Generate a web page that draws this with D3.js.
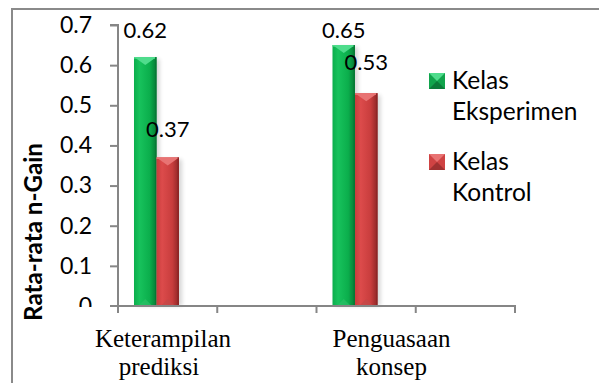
<!DOCTYPE html>
<html>
<head>
<meta charset="utf-8">
<script src="https://cdn.jsdelivr.net/npm/d3@7"></script>
<style>
  html, body { margin: 0; padding: 0; background: #fff; }
  svg { display: block; }
</style>
</head>
<body>
<svg id="chart" width="599" height="383"></svg>
<script>
// Average n-Gain per learning aspect, experiment vs control class
const categories = ["Keterampilan prediksi", "", "Penguasaan konsep", ""];
const categoryLines = [["Keterampilan", "prediksi"], [], ["Penguasaan", "konsep"], []];
const seriesNames = ["Kelas Eksperimen", "Kelas Kontrol"];
const eksperimen = [0.62, null, 0.65, null];
const kontrol = [0.37, null, 0.53, null];
const yTicks = [0, 0.1, 0.2, 0.3, 0.4, 0.5, 0.6, 0.7];
const yTitle = "Rata-rata n-Gain";

const svg = d3.select("#chart");
const axisColor = "#868686";
const sansFont = "Lato, 'Open Sans', sans-serif";
const serifFont = "'Liberation Serif', 'Times New Roman', serif";

const plot = { left: 118, right: 515, top: 25, bottom: 306 };

const x = d3.scaleBand().domain(categories.map((c, i) => i)).range([plot.left, plot.right]);
const y = d3.scaleLinear().domain([0, 0.7]).range([plot.bottom, plot.top]);
// two bars per category, sitting left of the band centre
const xs = d3.scaleBand().domain([0, 1]).range([16, 61]);

const defs = svg.append("defs");
const palettes = [
  { light: "#17c25c", mid: "#0bae4c", dark: "#067a35", cap: "#4fdc8c", base: "#2bbf66", key: "#11a44c", keyDark: "#086a32" },
  { light: "#dc4b4b", mid: "#c83d3d", dark: "#8e2626", cap: "#e87373", base: "#c24848", key: "#cf4343", keyDark: "#8a2a2a" }
];
palettes.forEach((p, i) => {
  const g = defs.append("linearGradient").attr("id", "bar" + i)
    .attr("x1", "0").attr("x2", "1").attr("y1", "0").attr("y2", "0");
  g.append("stop").attr("offset", "0").attr("stop-color", p.mid);
  g.append("stop").attr("offset", "0.25").attr("stop-color", p.light);
  g.append("stop").attr("offset", "0.7").attr("stop-color", p.mid);
  g.append("stop").attr("offset", "1").attr("stop-color", p.dark);
});
const sh = defs.append("filter").attr("id", "shadow").attr("x", "-30%").attr("width", "160%");
sh.append("feGaussianBlur").attr("stdDeviation", 2.2);

// outer frame
svg.append("rect").attr("x", 12).attr("y", 9).attr("width", 700).attr("height", 500)
  .attr("fill", "none").attr("stroke", "#8a8a8a").attr("stroke-width", 2);

// bars
const seriesData = [eksperimen, kontrol];
seriesData.forEach((vals, s) => {
  const p = palettes[s];
  vals.forEach((v, i) => {
    if (v == null) return;
    const x0 = x(i) + xs(s), w = xs.bandwidth(), yt = y(v), h = plot.bottom - yt;
    const g = svg.append("g");
    g.append("rect").attr("x", x0 + 3).attr("y", yt + 2).attr("width", w).attr("height", h - 2)
      .attr("fill", "#000").attr("opacity", 0.16).attr("filter", "url(#shadow)");
    g.append("rect").attr("x", x0).attr("y", yt).attr("width", w).attr("height", h)
      .attr("fill", `url(#bar${s})`);
    // top bevel
    g.append("path").attr("d", `M${x0},${yt} L${x0 + w},${yt} L${x0 + w / 2},${yt + 8} Z`)
      .attr("fill", p.cap);
    g.append("rect").attr("x", x0).attr("y", yt).attr("width", w).attr("height", 1.5).attr("fill", p.cap);
    // bottom bevel
    g.append("path").attr("d", `M${x0 + 4},${plot.bottom} L${x0 + w - 4},${plot.bottom} L${x0 + w / 2},${plot.bottom - 7} Z`)
      .attr("fill", p.base).attr("opacity", 0.7);
    g.append("rect").attr("x", x0 + w - 1.5).attr("y", yt).attr("width", 1.5).attr("height", h)
      .attr("fill", p.dark);
  });
});

// value labels
const labelTop = 38;
seriesData.forEach((vals, s) => {
  vals.forEach((v, i) => {
    if (v == null) return;
    const cx = x(i) + xs(s) + xs.bandwidth() / 2;
    let by = y(v) - (s === 1 && i === 2 ? 23.5 : 20);
    by = Math.max(by, labelTop);
    svg.append("text").attr("x", cx).attr("y", by).attr("text-anchor", "middle")
      .attr("font-family", sansFont).attr("font-size", 22).attr("fill", "#000").text(v.toFixed(2));
  });
});

// y axis, its labels kept above the category label strip
defs.append("clipPath").attr("id", "yclip").append("rect")
  .attr("x", -plot.left).attr("y", 0).attr("width", plot.left + 20).attr("height", 307);
const yAxis = svg.append("g").attr("transform", `translate(${plot.left},0)`)
  .attr("clip-path", "url(#yclip)")
  .call(d3.axisLeft(y).tickValues(yTicks).tickSize(8).tickPadding(18).tickFormat(d => d === 0 ? "0" : d3.format(".1f")(d)));
yAxis.select(".domain").attr("stroke", axisColor).attr("stroke-width", 2).attr("d", `M-8,${plot.top}H0V${plot.bottom}`);
yAxis.selectAll(".tick line").attr("stroke", axisColor).attr("stroke-width", 2);
yAxis.selectAll(".tick text").attr("font-family", sansFont).attr("font-size", 23).attr("fill", "#000");

// x axis
const xAxis = svg.append("g");
xAxis.append("line").attr("x1", plot.left - 8).attr("x2", plot.right + 1)
  .attr("y1", plot.bottom).attr("y2", plot.bottom).attr("stroke", axisColor).attr("stroke-width", 2);
const xTickPos = categories.map((c, i) => x(i)).concat([plot.right]);
xAxis.selectAll("line.tick").data(xTickPos).join("line").attr("class", "tick")
  .attr("x1", d => d).attr("x2", d => d).attr("y1", plot.bottom).attr("y2", plot.bottom + 7)
  .attr("stroke", axisColor).attr("stroke-width", 2);

// category labels, two lines each
const labelCenter = [x(0) + 45, null, x(2) + 75, null];
categoryLines.forEach((lines, i) => {
  if (!lines.length) return;
  lines.forEach((ln, k) => {
    svg.append("text").attr("text-anchor", "middle")
      .attr("font-family", serifFont).attr("font-size", 25).attr("fill", "#000")
      .attr("x", labelCenter[i] - (i === 0 && k === 1 ? 4 : 0)).attr("y", 347 + k * 28).text(ln);
  });
});

// y axis title, sized to span its slot along the axis
const title = svg.append("text").attr("transform", "translate(42,232) rotate(-90)")
  .attr("text-anchor", "middle").attr("font-family", sansFont).attr("font-weight", "bold")
  .attr("font-size", 20).attr("fill", "#000").text(yTitle);
const titleLen = title.node().getComputedTextLength();
title.attr("font-size", 20 * 178 / titleLen);

// legend
const legend = svg.append("g");
const legendTop = [73, 154];
seriesNames.forEach((name, s) => {
  const p = palettes[s];
  const g = legend.append("g").attr("transform", `translate(429,${legendTop[s]})`);
  g.append("rect").attr("width", 16).attr("height", 16).attr("fill", p.key);
  g.append("path").attr("d", "M0,16 L8,8 L16,16 Z").attr("fill", p.keyDark).attr("opacity", 0.7);
  g.append("path").attr("d", "M0,0 L16,0 L8,8 Z").attr("fill", p.cap);
  const words = name.split(" ");
  const t = g.append("text").attr("font-family", sansFont).attr("font-size", 24.5).attr("fill", "#000");
  t.append("tspan").attr("x", 23).attr("y", 16).text(words[0]);
  t.append("tspan").attr("x", 23).attr("y", 47).text(words.slice(1).join(" "));
});
</script>
</body>
</html>
